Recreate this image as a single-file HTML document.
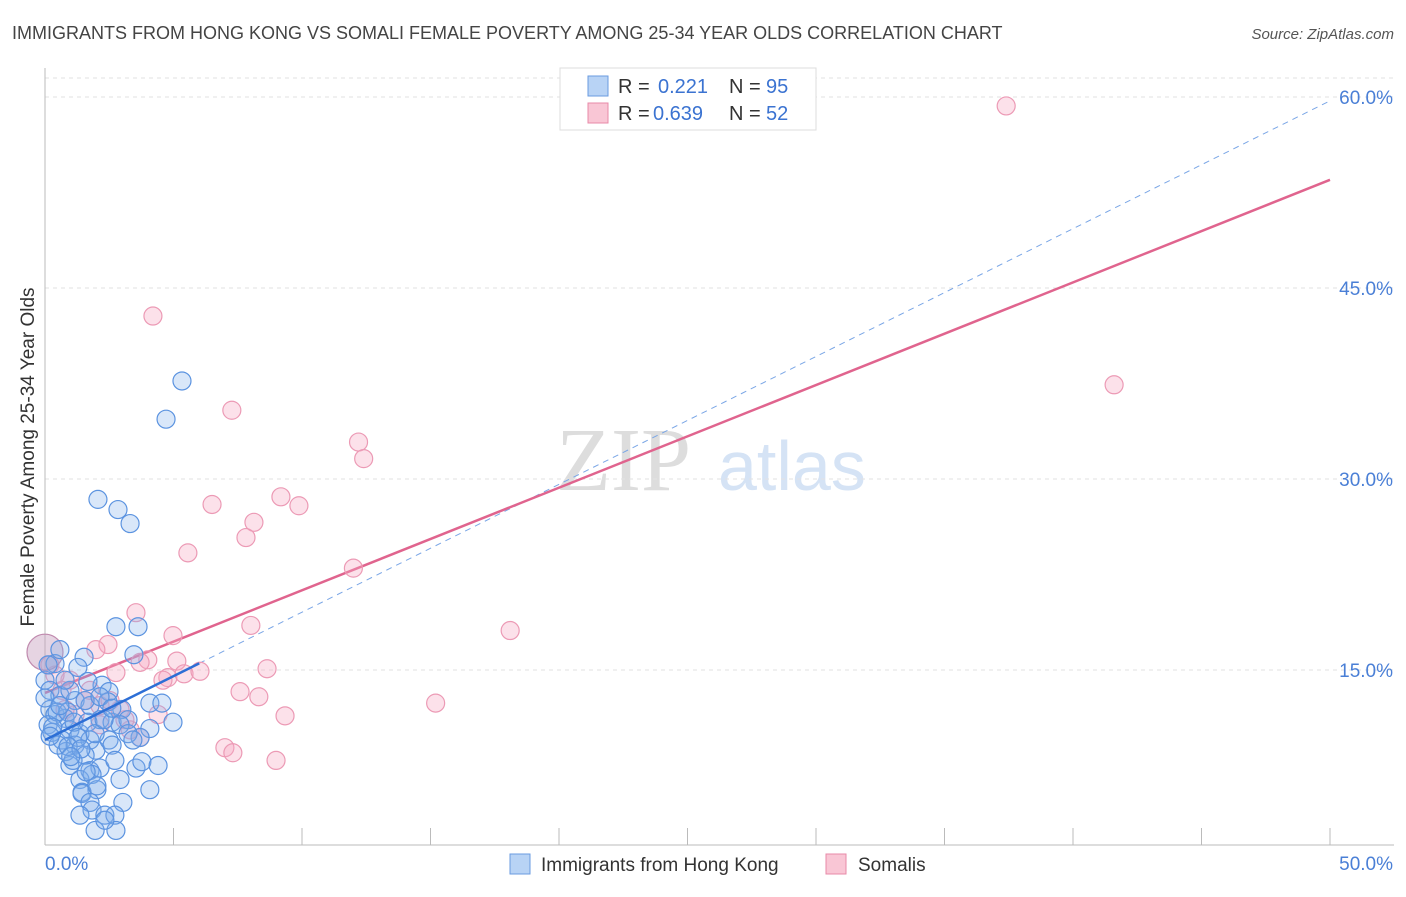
<!DOCTYPE html>
<html><head><meta charset="utf-8"><style>
body{margin:0;background:#fff;font-family:"Liberation Sans",sans-serif;}
</style></head><body>
<svg id="chart" width="1406" height="892" xmlns="http://www.w3.org/2000/svg" font-family="Liberation Sans, sans-serif">
<text x="12" y="39" font-size="18" fill="#444">IMMIGRANTS FROM HONG KONG VS SOMALI FEMALE POVERTY AMONG 25-34 YEAR OLDS CORRELATION CHART</text>
<text x="1394" y="39" font-size="15" fill="#555" text-anchor="end" font-style="italic">Source: ZipAtlas.com</text>
<text transform="translate(34,457) rotate(-90)" font-size="19" fill="#333" text-anchor="middle">Female Poverty Among 25-34 Year Olds</text>
<g><text x="556" y="490" font-size="90" fill="#ddd" font-family="Liberation Serif, serif">ZIP</text><text x="718" y="490" font-size="70" fill="#d5e3f5">atlas</text></g>
<g id="grid"></g><g id="axes"></g><g id="trend"></g><g id="pts"></g>
<g>
<rect x="560" y="68" width="256" height="62" fill="#fff" stroke="#ddd"/>
<rect x="588" y="76" width="20" height="20" fill="#b8d3f5" stroke="#6a9be0"/>
<rect x="588" y="103" width="20" height="20" fill="#f9c6d5" stroke="#e88aa8"/>
<text x="618" y="93" font-size="20" fill="#333">R =</text><text x="658" y="93" font-size="20" fill="#3b73d1">0.221</text>
<text x="729" y="93" font-size="20" fill="#333">N =</text><text x="766" y="93" font-size="20" fill="#3b73d1">95</text>
<text x="618" y="120" font-size="20" fill="#333">R =</text><text x="653" y="120" font-size="20" fill="#3b73d1">0.639</text>
<text x="729" y="120" font-size="20" fill="#333">N =</text><text x="766" y="120" font-size="20" fill="#3b73d1">52</text>
</g>
<g>
<rect x="510" y="854" width="20" height="20" fill="#b8d3f5" stroke="#6a9be0"/>
<text x="541" y="871" font-size="19" fill="#333">Immigrants from Hong Kong</text>
<rect x="826" y="854" width="20" height="20" fill="#f9c6d5" stroke="#e88aa8"/>
<text x="858" y="871" font-size="19" fill="#333">Somalis</text>
</g>
</svg>
<script>
const blueX=[5.33,4.71,2.06,2.84,3.31,2.76,3.62,3.46,1.52,0.39,0,0.19,0.58,1.28,2.22,2.49,1.17,1.75,0.19,0.39,0.78,0.12,0.97,1.36,0.66,1.17,1.75,2.14,2.61,2.99,2.45,3.23,4.08,4.55,4.98,4.08,1.98,2.49,1.56,0.97,1.75,2.14,2.61,2.72,1.36,1.83,1.60,2.02,1.44,3.54,3.77,4.40,2.92,1.44,1.75,2.02,3.03,4.08,1.83,1.36,2.33,2.72,2.76,1.95,0.58,0.12,0,0.27,0.47,0.89,1.13,0.82,0.51,1.67,1.95,2.92,3.70,3.23,2.30,0.97,0.78,1.67,2.33,1.09,1.28,1.56,0.58,2.14,3.42,0.3,0.9,1.4,2.6,0.2,1.0];
const blueY=[37.7,34.7,28.4,27.6,26.5,18.4,18.4,16.2,16.0,15.5,14.2,13.4,13.0,15.2,13.8,13.3,12.6,12.2,11.9,11.5,11.2,10.7,10.3,10.0,9.5,9.1,9.5,11.1,10.9,11.9,12.5,11.1,12.4,12.4,10.9,10.4,8.7,9.5,8.3,7.5,7.1,7.3,9.1,7.9,6.4,6.8,7.0,5.6,5.4,7.3,7.8,7.5,6.4,5.3,4.6,5.9,4.6,5.6,4.0,3.6,3.6,3.6,2.4,2.4,16.6,15.4,12.8,10.1,11.7,11.7,10.9,8.6,9.1,10.9,10.0,10.7,9.7,10.0,11.1,13.4,14.2,14.1,3.2,7.9,9.7,12.6,12.2,12.9,9.5,10.5,9.0,8.8,12.0,9.8,8.2];
const pinkX=[37.4,4.20,41.6,7.27,12.2,12.4,6.5,9.18,9.88,8.13,7.82,5.56,12.0,3.54,8.01,18.1,4.98,2.45,1.98,4.0,3.7,5.13,8.64,2.76,4.78,5.41,6.03,4.59,7.59,8.32,0.97,0.19,0.66,1.56,2.14,2.92,15.2,9.34,3.31,3.70,4.40,7.0,7.31,8.99,1.17,1.75,2.53,0.78,3.11,0.39,2.14];
const pinkY=[59.3,42.8,37.4,35.4,32.9,31.6,28.0,28.6,27.9,26.6,25.4,24.2,23.0,19.5,18.5,18.1,17.7,17.0,16.6,15.8,15.6,15.7,15.1,14.8,14.4,14.7,14.9,14.2,13.3,12.9,14.2,15.4,13.4,12.6,12.2,11.9,12.4,11.4,10.3,9.7,11.5,8.9,8.5,7.9,11.5,13.4,12.6,11.9,11.1,14.6,10.7];
const bigX=[0], bigY=[16.4];
const xTicks=[0,50], yTicks=[15,30,45,60];
const blueFit=[9.5,1.004], pinkFit=[13.2,0.806];
const X=v=>45+v*25.7, Y=v=>861-v*12.733;
const NS="http://www.w3.org/2000/svg";
function mk(p,t,a){const e=document.createElementNS(NS,t);for(const k in a)e.setAttribute(k,a[k]);document.getElementById(p).appendChild(e);return e;}
yTicks.forEach(t=>{
 const g=mk('grid','line',{x1:45,x2:1394,y1:Y(t),y2:Y(t),stroke:'#e2e2e2','stroke-dasharray':'4,4'});
 
 
 const l=mk('axes','text',{x:1393,y:Y(t)+7,'font-size':19,fill:'#4a7fd6','text-anchor':'end'});l.textContent=t.toFixed(1)+'%';
 
 
});
mk('grid','line',{x1:45,x2:1394,y1:78,y2:78,stroke:'#e2e2e2','stroke-dasharray':'4,4'});
mk('axes','line',{x1:45,x2:45,y1:68,y2:845,stroke:'#bbb'});
mk('axes','line',{x1:45,x2:1394,y1:845,y2:845,stroke:'#bbb'});
for(let i=0;i<=10;i++){mk('axes','line',{x1:X(i*5),x2:X(i*5),y1:828,y2:845,stroke:'#bbb'});}
xTicks.forEach((t,i)=>{const l=mk('axes','text',{x:i?1393:45,y:870,'font-size':19,fill:'#4a7fd6','text-anchor':i?'end':'start'});l.textContent=t.toFixed(1)+'%';
 
 });
const bd=mk('trend','line',{x1:X(6),y1:Y(blueFit[0]+blueFit[1]*6),x2:X(50),y2:Y(blueFit[0]+blueFit[1]*50),stroke:'#7aa6e6','stroke-width':1,'stroke-dasharray':'6,5'});


const pf=mk('trend','line',{x1:X(0),y1:Y(pinkFit[0]),x2:X(50),y2:Y(pinkFit[0]+pinkFit[1]*50),stroke:'#e0648e','stroke-width':2.5});


pinkX.forEach((x,i)=>{const c=mk('pts','circle',{cx:X(x),cy:Y(pinkY[i]),r:9,fill:'rgba(247,170,195,0.35)',stroke:'#ec9ab5','stroke-width':1.2});
 
 });
bigX.forEach((x,i)=>{const c=mk('pts','circle',{cx:X(x),cy:Y(bigY[i]),r:18,fill:'rgba(200,160,190,0.45)',stroke:'#c08aae','stroke-width':1.2});
 
 });
blueX.forEach((x,i)=>{const c=mk('pts','circle',{cx:X(x),cy:Y(blueY[i]),r:9,fill:'rgba(130,175,235,0.3)',stroke:'#5b93e0','stroke-width':1.2});
 
 });
const bf=mk('pts','line',{x1:X(0),y1:Y(blueFit[0]),x2:X(6),y2:Y(blueFit[0]+blueFit[1]*6),stroke:'#2d6fd6','stroke-width':2.5});


</script>
</body></html>
